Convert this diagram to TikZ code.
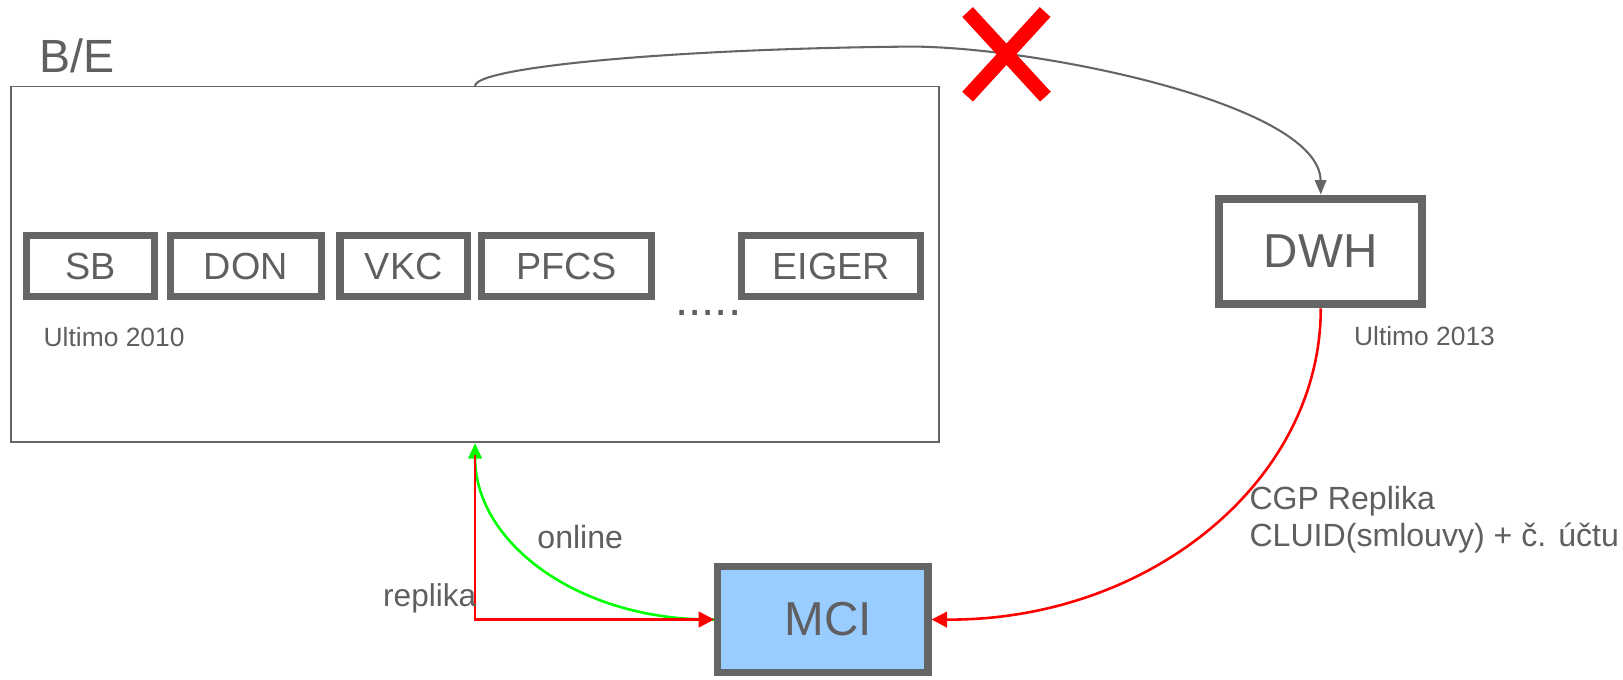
\documentclass[tikz,border=0pt]{standalone}
\usepackage{fontspec}
\setmainfont{Liberation Sans}
\usetikzlibrary{arrows.meta}
\definecolor{boxgray}{RGB}{100,101,103}
\definecolor{txtgray}{RGB}{95,95,97}
\definecolor{mciblue}{RGB}{153,204,255}
\definecolor{xred}{RGB}{255,0,0}
\definecolor{xgreen}{RGB}{0,255,0}
\tikzset{
  sysbox/.style={draw=boxgray, line width=7pt, inner sep=0pt, text=txtgray, font=\fontsize{36.5}{44}\selectfont, minimum height=59pt},
  bigsys/.style={draw=boxgray, line width=8pt, inner sep=0pt, text=txtgray, font=\fontsize{46}{55}\selectfont},
  lbl/.style={text=txtgray, inner sep=0pt},
  graylink/.style={draw=boxgray, line width=2pt, -{Triangle[length=14pt,width=11pt]}},
  redlink/.style={draw=xred, line width=2.5pt, -{Triangle[length=15pt,width=15pt]}},
  greenlink/.style={draw=xgreen, line width=2.5pt, -{Triangle[length=15pt,width=13pt]}},
  crossarm/.style={draw=xred, line width=14pt},
}
\begin{document}
\begin{tikzpicture}[x=1pt,y=-1pt]
\useasboundingbox (0,0) rectangle (1568,656);
% big B/E container
\node[draw=boxgray, line width=1.5pt, minimum width=896.5pt, minimum height=343.5pt, inner sep=0pt] (BE) at (459,255.5) {};
\node[lbl, anchor=base west, font=\fontsize{45}{54}\selectfont] (BElbl) at (38,70) {B/E};
% source systems
\node[sysbox, minimum width=124pt] (SB) at (87.5,257) {SB};
\node[sysbox, minimum width=146pt] (DON) at (237.5,257) {DON};
\node[sysbox, minimum width=123pt] (VKC) at (390,257) {VKC};
\node[sysbox, minimum width=164pt] (PFCS) at (547.5,257) {PFCS};
\node[sysbox, minimum width=173pt] (EIGER) at (803,257) {EIGER};
\node[lbl, anchor=base west, font=\fontsize{46}{55}\selectfont] (dots) at (652,305) {.....};
\node[lbl, anchor=base west, font=\fontsize{25.5}{30}\selectfont] (ult10) at (42,335) {Ultimo 2010};
% DWH
\node[bigsys, minimum width=196pt, minimum height=102pt] (DWH) at (1276,243) {DWH};
\node[lbl, anchor=base west, font=\fontsize{25.5}{30}\selectfont] (ult13) at (1308,334) {Ultimo 2013};
% MCI
\node[bigsys, line width=7pt, minimum width=203pt, minimum height=102pt, fill=mciblue] (MCI) at (795,598.5) {\hspace*{10pt}MCI};
% connectors
\draw[graylink] (BE.north) .. controls (459,65) and (650,47) .. (880,45) .. controls (1000,45) and (1275,100) .. (DWH.north);
\draw[greenlink] (MCI.west) .. controls (560,600) and (459,525) .. (BE.south);
\draw[redlink, shorten <=12pt] (BE.south) |- (MCI.west);
\draw[redlink] (DWH.south) .. controls (1276,465) and (1110,600) .. (MCI.east);
% labels
\node[lbl, anchor=base west, font=\fontsize{31}{37}\selectfont] (online) at (519,530) {online};
\node[lbl, anchor=base west, font=\fontsize{30.5}{36}\selectfont] (replika) at (370,586) {replika};
\node[lbl, anchor=base west, font=\fontsize{31}{37}\selectfont] (cgp1) at (1207,492) {CGP Replika};
\node[lbl, anchor=base west, font=\fontsize{31}{37}\selectfont] (cgp2) at (1207,528) {CLUID(smlouvy) + č. účtu};
% red cross
\draw[crossarm] (934.8,11.6) -- (1010,93.4);
\draw[crossarm] (1009.7,11.6) -- (934.8,93.4);
\end{tikzpicture}
\end{document}
